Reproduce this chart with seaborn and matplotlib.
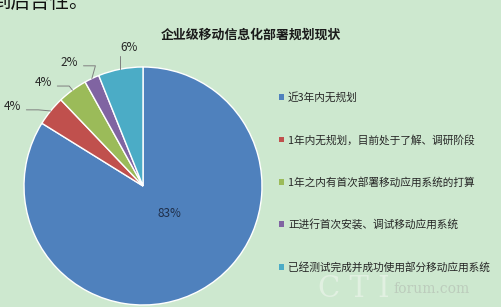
import numpy as np
import matplotlib
matplotlib.use("Agg")
import matplotlib.pyplot as plt
from matplotlib.patches import Patch
import seaborn as sns

# Deployment status categories and their shares (%)
categories = [
    "近3年内无规划",
    "1年内无规划，目前处于了解、调研阶段",
    "1年之内有首次部署移动应用系统的打算",
    "正进行首次安装、调试移动应用系统",
    "已经测试完成并成功使用部分移动应用系统",
]
shares = [83, 4, 4, 2, 6]
pct_labels = ["83%", "4%", "4%", "2%", "6%"]
title = "企业级移动信息化部署规划现状"

BG = "#cde8cf"
sns.set_theme(style="white", rc={"figure.facecolor": BG, "axes.facecolor": BG})
plt.rcParams["font.family"] = ["Noto Sans CJK SC", "DejaVu Sans"]
palette = sns.color_palette(["#4f81bd", "#c0504d", "#9bbb59", "#8064a2", "#4bacc6"])

W, H = 501, 307
fig = plt.figure(figsize=(W / 100, H / 100), dpi=100)

# pie axes: square in pixels
cx, cy, r = 143, 186, 119
ax = fig.add_axes([(cx - r) / W, (H - cy - r) / H, 2 * r / W, 2 * r / H])

wedges, _ = ax.pie(shares, colors=palette, startangle=90, counterclock=False,
                   radius=1, wedgeprops=dict(edgecolor="white", linewidth=1.0))
ax.set_xlim(-1, 1)
ax.set_ylim(-1, 1)
ax.axis("off")

# label for the large slice sits inside
ax.text(0.22, -0.235, pct_labels[0], ha="center", va="center",
        fontsize=8.5, color="#1f2f4a")

# outside labels with leader lines for the small slices
label_pos = {1: (-1.10, 0.67), 2: (-0.84, 0.87), 3: (-0.62, 1.04), 4: (-0.12, 1.16)}
for i, (tx, ty) in label_pos.items():
    w = wedges[i]
    mid = np.deg2rad((w.theta1 + w.theta2) / 2)
    ex, ey = np.cos(mid), np.sin(mid)
    ax.text(tx, ty, pct_labels[i], ha="center", va="center", fontsize=8.5,
            color="#262626", clip_on=False)
    if i == 4:
        xs, ys = [ex, ex], [ty - 0.07, ey]
    else:
        sx = tx + 0.12
        elbow = sx + 0.10
        xs, ys = [sx, elbow, ex], [ty - 0.03, ty - 0.03, ey]
    ax.plot(xs, ys, color="#7f7f7f", lw=0.7, clip_on=False)

# title
fig.text(251 / W, 1 - 35 / H, title, ha="center", va="center",
         fontsize=9.3, fontweight="bold", color="#1a1a1a")

# legend
handles = [Patch(facecolor=c, edgecolor="none") for c in palette]
leg = fig.legend(handles, categories, loc="upper left",
                 bbox_to_anchor=(279 / W, 1 - 92 / H), bbox_transform=fig.transFigure,
                 frameon=False, fontsize=7.7, handlelength=0.45, handleheight=0.45,
                 handletextpad=0.4, labelspacing=2.95, borderpad=0, borderaxespad=0)
for t in leg.get_texts():
    t.set_color("#262626")

# article text running above the chart, cut by the image edge
fig.text(-8 / W, 1 - 8 / H, "到后台性。", ha="left", va="baseline",
         fontsize=14, color="#111111")

# site watermark
fig.text(318 / W, 1 - 297 / H, "C T I", ha="left", va="baseline",
         fontsize=21, family="DejaVu Serif", color="#e4f1e4", alpha=0.9)
fig.text(393 / W, 1 - 293 / H, "forum.com", ha="left", va="baseline",
         fontsize=10, family="DejaVu Serif", color="#bcccbc")

fig.savefig("out.png", dpi=100, facecolor=BG)
